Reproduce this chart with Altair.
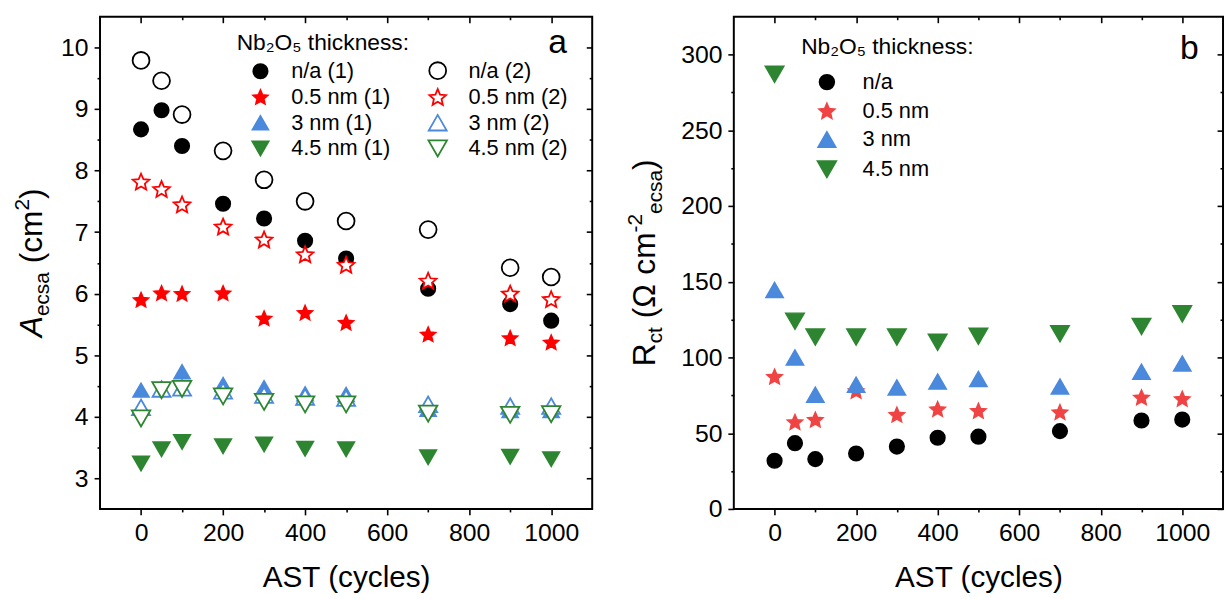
import altair as alt
import pandas as pd

FONT = "Liberation Sans"

# ---------------- data ----------------
AST = [0, 50, 100, 200, 300, 400, 500, 700, 900, 1000]

# panel a : A_ecsa (cm2)
A_NA_1 = [8.67, 8.98, 8.40, 7.46, 7.22, 6.86, 6.57, 6.08, 5.83, 5.56]
A_NA_2 = [9.79, 9.46, 8.91, 8.32, 7.85, 7.50, 7.18, 7.04, 6.42, 6.27]
A_05_1 = [5.90, 6.01, 6.00, 6.01, 5.60, 5.69, 5.53, 5.34, 5.28, 5.21]
A_05_2 = [7.82, 7.70, 7.45, 7.09, 6.88, 6.64, 6.47, 6.21, 6.00, 5.91]
A_3_1 = [4.43, 4.45, 4.73, 4.52, 4.47, 4.37, 4.36, 4.12, 4.10, 4.10]
A_3_2 = [4.15, 4.45, 4.47, 4.42, 4.35, 4.32, 4.30, 4.20, 4.17, 4.17]
A_45_1 = [3.24, 3.47, 3.59, 3.52, 3.55, 3.48, 3.47, 3.34, 3.35, 3.31]
A_45_2 = [3.97, 4.43, 4.45, 4.33, 4.24, 4.20, 4.20, 4.05, 4.03, 4.04]

# legend fills column by column: first column (1), second column (2)
SERIES_A = ["n/a (1)", "0.5 nm (1)", "3 nm (1)", "4.5 nm (1)",
            "n/a (2)", "0.5 nm (2)", "3 nm (2)", "4.5 nm (2)"]
VALUES_A = [A_NA_1, A_05_1, A_3_1, A_45_1, A_NA_2, A_05_2, A_3_2, A_45_2]

# panel b : R_ct
B_NA = [31.8, 43.4, 32.9, 36.6, 41.2, 47.0, 47.7, 51.4, 58.4, 59.0]
B_05 = [87.4, 57.5, 59.0, 78.0, 62.3, 66.0, 64.9, 64.0, 73.7, 72.8]
B_3 = [144.6, 100.0, 75.4, 82.0, 80.2, 84.1, 85.8, 80.8, 90.6, 96.0]
B_45 = [287.0, 124.0, 113.5, 113.5, 113.5, 110.0, 114.0, 115.7, 120.5, 128.8]

SERIES_B = ["n/a", "0.5 nm", "3 nm", "4.5 nm"]
VALUES_B = [B_NA, B_05, B_3, B_45]

LEGEND_TITLE = "Nb₂O₅ thickness:"

# ---------------- styles ----------------
STAR = ("M0,-0.905L0.27,-0.277L0.951,-0.214L0.437,0.237L0.588,0.904L0,0.555"
        "L-0.588,0.904L-0.437,0.237L-0.951,-0.214L-0.27,-0.277Z")
RED_A, RED_B = "#ff0000", "#f04444"
BLUE, GREEN = "#4a89dc", "#2e8531"

SHAPES_A = ["circle", STAR, "triangle-up", "triangle-down",
            "circle", STAR, "triangle-up", "triangle-down"]
STROKES_A = ["black", RED_A, BLUE, GREEN, "black", RED_A, BLUE, GREEN]
FILLS_A = ["black", RED_A, BLUE, GREEN, "white", "white", "white", "white"]
SIZES_A = [210, 350, 250, 250, 210, 350, 250, 250]

SHAPES_B = ["circle", STAR, "triangle-up", "triangle-down"]
COLORS_B = ["black", RED_B, BLUE, GREEN]
SIZES_B = [220, 350, 270, 270]

XMAJ = [0, 200, 400, 600, 800, 1000]
XMIN = [100, 300, 500, 700, 900]
YMAJ_A = [3, 4, 5, 6, 7, 8, 9, 10]
YMIN_A = [3.5, 4.5, 5.5, 6.5, 7.5, 8.5, 9.5]
YMAJ_B = [0, 50, 100, 150, 200, 250, 300]
YMIN_B = [25, 75, 125, 175, 225, 275]

W_A, W_B, H = 497, 494, 497

CHAR_W = {'A': 0.667, 'R': 0.722, 'a': 0.556, 'c': 0.5, 'e': 0.556, 'm': 0.833,
          's': 0.5, 't': 0.278, '(': 0.333, ')': 0.333, ' ': 0.278, '-': 0.333,
          '2': 0.556, 'Ω': 0.768}


def long_df(series, values, yname):
    rows = []
    for s, vals in zip(series, values):
        for x, v in zip(AST, vals):
            rows.append({"AST": x, yname: v, "series": s})
    return pd.DataFrame(rows)


def tick_layers(df, yname, xscale, yscale, ymaj, ymin, xtitle):
    base = alt.Chart(df)
    main_x = alt.Axis(values=XMAJ, title=xtitle, orient="bottom", tickSize=6,
                      labelPadding=6, titlePadding=17, format="d")
    main_y = alt.Axis(values=ymaj, title=None, orient="left", tickSize=6,
                      labelPadding=6)
    layers = []
    specs = [
        (XMIN, ymin, "bottom", "left", 3, 0),
        (XMAJ, ymaj, "top", "right", 6, -6),
        (XMIN, ymin, "top", "right", 3, -3),
    ]
    for xv, yv, xo, yo, ts, off in specs:
        layers.append(base.mark_point(opacity=0).encode(
            x=alt.X("AST:Q", scale=xscale,
                    axis=alt.Axis(values=xv, orient=xo, tickSize=ts, offset=off,
                                  labels=False, title=None)),
            y=alt.Y(f"{yname}:Q", scale=yscale,
                    axis=alt.Axis(values=yv, orient=yo, tickSize=ts, offset=off,
                                  labels=False, title=None)),
        ))
    return main_x, main_y, layers


def rotated_title(pieces, x_base, center_y):
    """pieces: (text, fontSize, dy, fontStyle, gap_before_em)"""
    one = pd.DataFrame({"k": [0]})
    widths = [sum(CHAR_W.get(c, 0.556) for c in t) * fs for t, fs, _, _, _ in pieces]
    gaps = [g * fs for _, fs, _, _, g in pieces]
    total = sum(widths) + sum(gaps)
    y0 = center_y + total / 2
    out = []
    acc = 0
    for (t, fs, dy, style, _), w, g in zip(pieces, widths, gaps):
        acc += g
        out.append(alt.Chart(one).mark_text(
            text=t, font=FONT, fontSize=fs, fontStyle=style, angle=270,
            align="left", baseline="alphabetic", dx=acc, dy=dy, color="black",
        ).encode(x=alt.value(x_base), y=alt.value(y0)))
        acc += w
    return out


def label(txt, x, y, size, align="center"):
    one = pd.DataFrame({"k": [0]})
    return alt.Chart(one).mark_text(
        text=txt, font=FONT, fontSize=size, align=align, baseline="middle",
        color="black").encode(x=alt.value(x), y=alt.value(y))


xs = alt.Scale(domain=[-100, 1100], nice=False, zero=False)

# ---------------- panel a ----------------
df_a = long_df(SERIES_A, VALUES_A, "A")
ys_a = alt.Scale(domain=[2.5, 10.5], nice=False, zero=False)
leg_a = alt.Legend(title=None, orient="none", legendX=151, legendY=43,
                   columns=2, columnPadding=34, labelOffset=20, rowPadding=2,
                   symbolOffset=0, padding=0, labelFontSize=22)
mx, my, extra_a = tick_layers(df_a, "A", xs, ys_a, YMAJ_A, YMIN_A, "AST (cycles)")
pts_a = alt.Chart(df_a).mark_point(opacity=1, strokeWidth=1.8).encode(
    x=alt.X("AST:Q", scale=xs, axis=mx),
    y=alt.Y("A:Q", scale=ys_a, axis=my),
    shape=alt.Shape("series:N", scale=alt.Scale(domain=SERIES_A, range=SHAPES_A),
                    legend=leg_a, title=None),
    fill=alt.Fill("series:N", scale=alt.Scale(domain=SERIES_A, range=FILLS_A),
                  legend=leg_a, title=None),
    stroke=alt.Stroke("series:N", scale=alt.Scale(domain=SERIES_A, range=STROKES_A),
                      legend=leg_a, title=None),
    size=alt.Size("series:N", scale=alt.Scale(domain=SERIES_A, range=SIZES_A),
                  legend=leg_a, title=None),
)
title_a = rotated_title([("A", 32, 0, "italic", 0), ("ecsa", 21, 7, "normal", 0),
                         ("(cm", 32, 0, "normal", 0.278), ("2", 21, -13, "normal", 0),
                         (")", 32, 0, "normal", 0)], -59, H / 2)
panel_a = alt.layer(
    pts_a, *extra_a, *title_a,
    label(LEGEND_TITLE, 138, 27, 23, "left"),
    label("a", 462, 27, 34),
).resolve_axis(x="independent", y="independent").properties(width=W_A, height=H)

# ---------------- panel b ----------------
df_b = long_df(SERIES_B, VALUES_B, "R")
ys_b = alt.Scale(domain=[0, 325], nice=False, zero=False)
leg_b = alt.Legend(title=LEGEND_TITLE, orient="none", legendX=68, legendY=20,
                   labelOffset=25, rowPadding=6, symbolOffset=15, padding=0,
                   titlePadding=12, titleFontSize=23, labelFontSize=22)
mx, my, extra_b = tick_layers(df_b, "R", xs, ys_b, YMAJ_B, YMIN_B, "AST (cycles)")
pts_b = alt.Chart(df_b).mark_point(opacity=1, strokeWidth=1.5).encode(
    x=alt.X("AST:Q", scale=xs, axis=mx),
    y=alt.Y("R:Q", scale=ys_b, axis=my),
    shape=alt.Shape("series:N", scale=alt.Scale(domain=SERIES_B, range=SHAPES_B),
                    legend=leg_b, title=LEGEND_TITLE),
    fill=alt.Fill("series:N", scale=alt.Scale(domain=SERIES_B, range=COLORS_B),
                  legend=leg_b, title=LEGEND_TITLE),
    stroke=alt.Stroke("series:N", scale=alt.Scale(domain=SERIES_B, range=COLORS_B),
                      legend=leg_b, title=LEGEND_TITLE),
    size=alt.Size("series:N", scale=alt.Scale(domain=SERIES_B, range=SIZES_B),
                  legend=leg_b, title=LEGEND_TITLE),
)
title_b = rotated_title([("R", 32, 0, "normal", 0), ("ct", 21, 7, "normal", 0),
                         ("(Ω", 32, 0, "normal", 0.278), ("cm", 32, 0, "normal", 0.278),
                         ("-2", 21, -13, "normal", 0), ("ecsa", 21, 7, "normal", 0),
                         (")", 32, 0, "normal", 0)], -80, H / 2)
panel_b = alt.layer(pts_b, *extra_b, *title_b, label("b", 460, 33, 34)).resolve_axis(
    x="independent", y="independent").properties(width=W_B, height=H)

chart = alt.hconcat(panel_a, panel_b, spacing=30).resolve_scale(
    x="independent", y="independent", shape="independent", fill="independent",
    stroke="independent", size="independent",
).resolve_legend(shape="independent", fill="independent", stroke="independent",
                 size="independent").properties(
    padding={"left": 11, "top": 12, "right": 0, "bottom": 0},
    background="white",
).configure_view(stroke="black", strokeWidth=2).configure_axis(
    labelFont=FONT, labelFontSize=25, labelColor="black", tickColor="black",
    tickWidth=1.6, domain=False, grid=False, titleFont=FONT, titleFontSize=30,
    titleFontWeight="normal", titleColor="black",
).configure_legend(
    titleFont=FONT, labelFont=FONT, titleFontWeight="normal", titleColor="black",
    titleFontSize=23, labelFontSize=22,
    labelColor="black", symbolStrokeWidth=1.8,
)

chart.save("out.html", embed_options={"renderer": "svg", "actions": False})
